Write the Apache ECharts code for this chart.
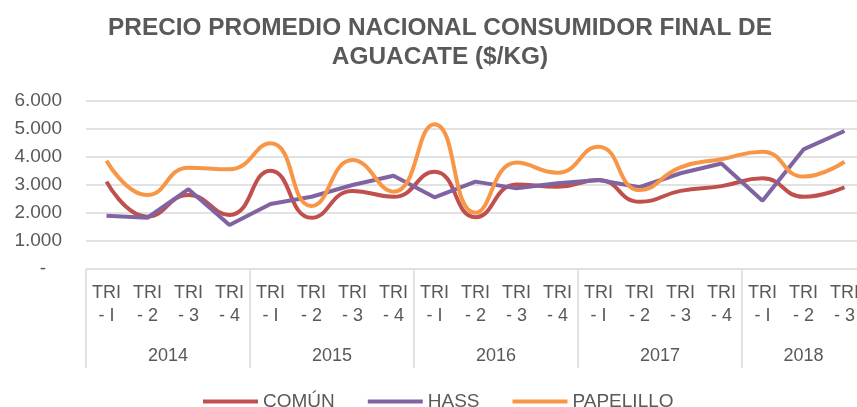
<!DOCTYPE html>
<html>
<head>
<meta charset="utf-8">
<title>Precio promedio aguacate</title>
<script src="https://cdn.jsdelivr.net/npm/echarts@6/dist/echarts.min.js"></script>
<style>
  html, body { margin: 0; padding: 0; background: #fff; }
  #chart { width: 857px; height: 407px; }
</style>
</head>
<body>
<div id="chart"></div>
<script>
// trimestres (2018 solo hasta TRI-3)
const quarters = [
  "TRI - I", "TRI - 2", "TRI - 3", "TRI - 4",
  "TRI - I", "TRI - 2", "TRI - 3", "TRI - 4",
  "TRI - I", "TRI - 2", "TRI - 3", "TRI - 4",
  "TRI - I", "TRI - 2", "TRI - 3", "TRI - 4",
  "TRI - I", "TRI - 2", "TRI - 3"
];
const years = ["2014", "2015", "2016", "2017", "2018"];
// posicion del año sobre el eje (centro de cada grupo)
const yearPos = [2, 6, 10, 14, 17.5];
const yTicks = [0, 1000, 2000, 3000, 4000, 5000, 6000];

const comun = [3120, 1870, 2640, 1930, 3510, 1830, 2790, 2580, 3470, 1850, 3020, 2940, 3180, 2400, 2790, 2960, 3240, 2580, 2920];
const hass = [1900, 1830, 2850, 1570, 2320, 2580, 3000, 3330, 2560, 3120, 2880, 3060, 3180, 2920, 3420, 3770, 2440, 4270, 4930];
const papelillo = [3870, 2640, 3620, 3560, 4490, 2250, 3890, 2760, 5170, 2010, 3800, 3440, 4370, 2820, 3630, 3920, 4190, 3300, 3830];

const font = "'Liberation Sans', Arial, sans-serif";
const textColor = "#595959";
const gridColor = "#d9d9d9";

let chart = echarts.init(document.getElementById("chart"));
let options = {
  animation: false,
  textStyle: { fontFamily: font },
  title: {
    text: "PRECIO PROMEDIO NACIONAL CONSUMIDOR FINAL DE\nAGUACATE ($/KG)",
    left: 440,
    top: 14,
    padding: 0,
    textAlign: "center",
    textStyle: {
      color: textColor,
      fontFamily: font,
      fontWeight: "bold",
      fontSize: 24.4,
      lineHeight: 29,
    },
  },
  legend: {
    left: 198,
    top: 387,
    icon: "rect",
    itemWidth: 55,
    itemHeight: 4,
    itemGap: 33,
    textStyle: { color: textColor, fontSize: 19, fontFamily: font },
    data: ["COMÚN", "HASS", "PAPELILLO"],
  },
  grid: {
    left: 86,
    right: -8,
    top: 101,
    bottom: 138,
    containLabel: false,
    outerBoundsMode: "none",
  },
  xAxis: [
    {
      // etiquetas de trimestre
      type: "category",
      position: "bottom",
      data: quarters,
      boundaryGap: true,
      axisLine: { show: false },
      axisTick: { show: false },
      axisLabel: {
        interval: 0,
        margin: 13,
        color: textColor,
        fontSize: 18,
        lineHeight: 23,
        formatter: (v) => v.replace(" ", "\n"),
      },
    },
    {
      // separadores entre años
      type: "value",
      position: "bottom",
      min: 0,
      max: 19,
      interval: 4,
      axisLine: { show: false },
      axisLabel: { show: false },
      splitLine: { show: false },
      axisTick: { show: true, length: 99, lineStyle: { color: gridColor, width: 1.5 } },
    },
    {
      // etiquetas de año
      type: "value",
      position: "bottom",
      min: 0,
      max: 19,
      interval: 0.5,
      axisLine: { show: false },
      axisTick: { show: false },
      splitLine: { show: false },
      axisLabel: {
        margin: 77,
        color: textColor,
        fontSize: 18,
        lineHeight: 20,
        formatter: (v) => {
          const i = yearPos.indexOf(v);
          return i >= 0 ? years[i] : "";
        },
      },
    },
  ],
  yAxis: {
    type: "value",
    min: yTicks[0],
    max: yTicks[yTicks.length - 1],
    interval: 1000,
    axisLine: { show: false },
    axisTick: { show: false },
    splitLine: { lineStyle: { color: gridColor, width: 1.5 } },
    axisLabel: {
      margin: 24,
      color: textColor,
      fontSize: 19,
      formatter: (v) => (v === 0 ? "-   " : v.toLocaleString("de-DE")),
    },
  },
  series: [
    {
      name: "COMÚN",
      type: "line",
      data: comun,
      smooth: true,
      symbol: "none",
      itemStyle: { color: "#C0504D" },
      lineStyle: { color: "#C0504D", width: 4 },
    },
    {
      name: "HASS",
      type: "line",
      data: hass,
      symbol: "none",
      itemStyle: { color: "#8064A2" },
      lineStyle: { color: "#8064A2", width: 4 },
    },
    {
      name: "PAPELILLO",
      type: "line",
      data: papelillo,
      smooth: true,
      symbol: "none",
      itemStyle: { color: "#F79646" },
      lineStyle: { color: "#F79646", width: 4 },
    },
  ],
};
chart.setOption(options);
</script>
</body>
</html>
